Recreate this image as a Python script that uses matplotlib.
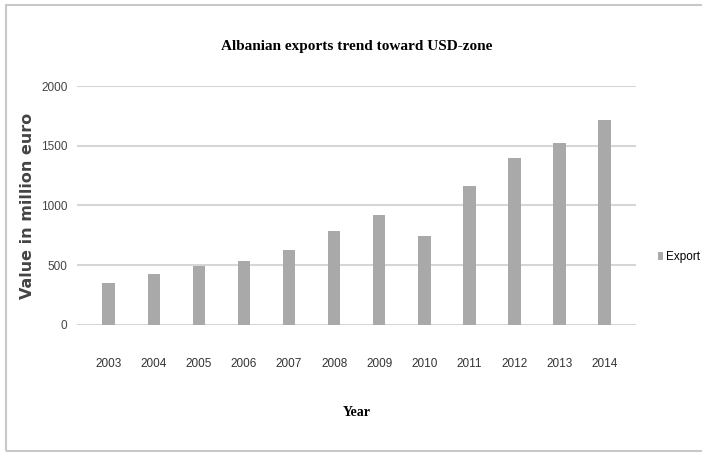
import matplotlib
matplotlib.use("Agg")
import matplotlib.pyplot as plt
from matplotlib.patches import Rectangle

# data
years = ["2003", "2004", "2005", "2006", "2007", "2008",
         "2009", "2010", "2011", "2012", "2013", "2014"]
exports = [349, 427, 494, 533, 628, 784, 921, 745, 1166, 1398, 1526, 1716]
yticks = [0, 500, 1000, 1500, 2000]

narrow = ["Liberation Sans", "DejaVu Sans"]

fig = plt.figure(figsize=(7.02, 4.53), dpi=100)
ax = fig.add_axes([0.110, 0.283, 0.796, 0.527])

# outer chart frame
fig.patches.append(Rectangle((0.008, 0.004), 1.2, 0.985, transform=fig.transFigure,
                             fill=False, edgecolor="#c8c8c8", linewidth=1.5))

x = range(len(years))
bars = ax.bar(x, exports, width=0.28, color="#a9a9a9", label="Export", zorder=3)

ax.set_ylim(0, 2000)
ax.set_xlim(-0.7, len(years) - 0.3)
ax.set_yticks(yticks)
ax.set_yticklabels([str(v) for v in yticks], family=narrow, fontsize=8.5, color="#444444")
ax.set_xticks(list(x))
ax.set_xticklabels(years, family=narrow, fontsize=8.5, color="#333333")
ax.tick_params(axis="y", length=0, pad=7)
ax.tick_params(axis="x", length=0, pad=24)
ax.yaxis.grid(True, color="#d6d6d6", linewidth=1.5, zorder=0)
for s in ax.spines.values():
    s.set_visible(False)

ax.set_title("Albanian exports trend toward USD-zone", family="Liberation Serif",
             fontweight="bold", fontsize=11, pad=26)
ax.set_ylabel("Value in million euro", family="DejaVu Sans", fontweight="bold",
              fontsize=11.5, color="#444444", labelpad=4)
ax.set_xlabel("Year", family="Liberation Serif", fontweight="bold", fontsize=10, labelpad=26)

fig.legend(handles=[bars], loc="center left", bbox_to_anchor=(0.922, 0.432),
           frameon=False, prop={"family": narrow, "size": 8.5},
           handlelength=0.4, handleheight=0.6, handletextpad=0.3)

fig.savefig("out.png", dpi=100)
